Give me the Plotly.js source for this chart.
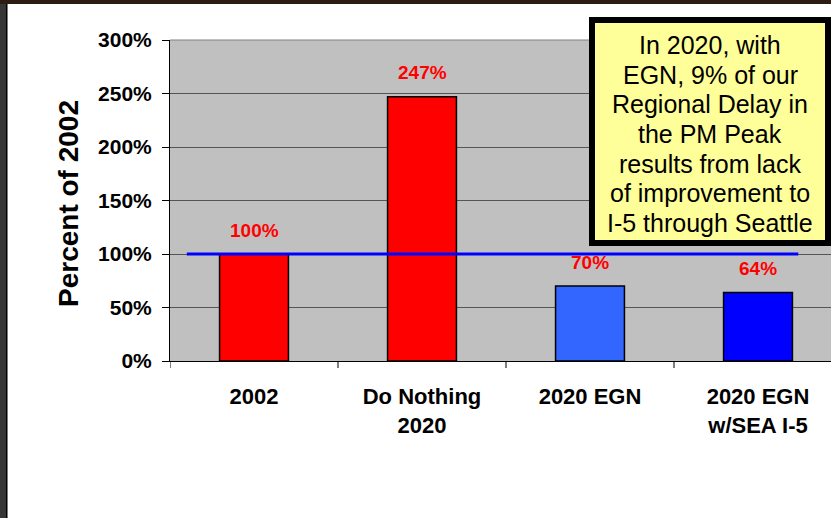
<!DOCTYPE html>
<html>
<head>
<meta charset="utf-8">
<script src="https://cdn.plot.ly/plotly-3.0.1.min.js"></script>
<style>
html,body{margin:0;padding:0;background:#fff;}
#chart{width:831px;height:518px;}
</style>
</head>
<body>
<div id="chart"></div>
<script>
const categories = ["2002", "Do Nothing<br>2020", "2020 EGN", "2020 EGN<br>w/SEA I-5"];
const values = [100, 247, 70, 64];
const labels = ["100%", "247%", "70%", "64%"];
const barColors = ["#FF0000", "#FF0000", "#3366FF", "#0000FF"];
const baseline = 100;
const yTicks = [0, 50, 100, 150, 200, 250, 300];
const yTickText = ["0%", "50%", "100%", "150%", "200%", "250%", "300%"];
const yTitle = "Percent of 2002";
const noteLines = ["In 2020, with", "EGN, 9% of our", "Regional Delay in", "the PM Peak", "results from lack", "of improvement to", "I-5 through Seattle"];

const W = 831, H = 518, ML = 170, MR = 0, MT = 40, MB = 157;
const PW = W - ML - MR, PH = H - MT - MB;
const px = v => (v - ML) / PW;
const py = v => (H - MB - v) / PH;

const FONT = "Liberation Sans, Arial, sans-serif";

const trace = {
  type: "bar",
  x: [0, 1, 2, 3],
  y: values,
  width: 0.41,
  marker: {color: barColors, line: {color: "#000", width: 1.5}},
  hoverinfo: "none"
};

const annotations = values.map((v, i) => ({
  x: i, y: v, xref: "x", yref: "y",
  text: "<b>" + labels[i] + "</b>",
  showarrow: false, yanchor: "middle", yshift: 24,
  font: {family: FONT, size: 19, color: "#FF0000"}
}));
noteLines.forEach((line, i) => annotations.push({
  x: px(710), y: py(45.5 + i * 29.5), xref: "paper", yref: "paper",
  text: line, showarrow: false, xanchor: "center", yanchor: "middle",
  font: {family: FONT, size: 25, color: "#000"}
}));
annotations.push({
  x: px(68), y: py(204), xref: "paper", yref: "paper",
  text: "<b>" + yTitle + "</b>", textangle: -90, showarrow: false,
  xanchor: "center", yanchor: "middle",
  font: {family: FONT, size: 28, color: "#000"}
});

const layout = {
  width: W, height: H,
  margin: {l: ML, r: MR, t: MT, b: MB, pad: 0},
  paper_bgcolor: "#FFFFFF",
  plot_bgcolor: "#C0C0C0",
  showlegend: false,
  xaxis: {
    range: [-0.5, 3.5 - 11 / 168],
    tickmode: "array",
    tickvals: [0, 1, 2, 3],
    ticktext: categories.map(c => "<b>" + c + "</b>"),
    tickfont: {family: FONT, size: 22, color: "#000"},
    showgrid: false,
    zeroline: false,
    showline: true, linecolor: "#000", linewidth: 1,
    ticks: "",
    ticklabelstandoff: 16
  },
  yaxis: {
    range: [0, 300],
    tickmode: "array",
    tickvals: yTicks,
    ticktext: yTickText.map(t => "<b>" + t + "</b>"),
    tickfont: {family: FONT, size: 21, color: "#000"},
    showgrid: true, gridcolor: "#555555", gridwidth: 1,
    zeroline: false,
    showline: true, linecolor: "#000", linewidth: 1,
    ticks: "outside", ticklen: 7, tickcolor: "#000",
    ticklabelstandoff: 6
  },
  shapes: [
    ...[-0.5, 0.5, 1.5, 2.5].map(b => ({
      type: "line", xref: "x", yref: "paper", x0: b, x1: b, y0: 0, y1: py(368),
      line: {color: "#000", width: 1}
    })),
    {type: "line", xref: "paper", yref: "paper", x0: 0, x1: 1, y0: 1, y1: 1, line: {color: "#808080", width: 1}},
    {type: "line", xref: "x", yref: "y", x0: -0.4, x1: 3.24, y0: baseline, y1: baseline,
     line: {color: "#0000FF", width: 3}, layer: "above"},
    {type: "rect", xref: "paper", yref: "paper", x0: px(592), x1: px(828), y0: py(20), y1: py(243),
     line: {color: "#000", width: 6}, fillcolor: "#FFFF99", layer: "above"},
    {type: "rect", xref: "paper", yref: "paper", x0: px(0), x1: px(6), y0: py(H), y1: py(0),
     line: {width: 0}, fillcolor: "#363636", layer: "below"},
    {type: "rect", xref: "paper", yref: "paper", x0: px(6), x1: px(7.5), y0: py(H), y1: py(0),
     line: {width: 0}, fillcolor: "#000000", layer: "below"},
    {type: "rect", xref: "paper", yref: "paper", x0: px(0), x1: px(W), y0: py(4), y1: py(0),
     line: {width: 0}, fillcolor: "#2e1c12", layer: "below"}
  ],
  annotations: annotations
};

Plotly.newPlot("chart", [trace], layout, {displayModeBar: false, staticPlot: true});
</script>
</body>
</html>
